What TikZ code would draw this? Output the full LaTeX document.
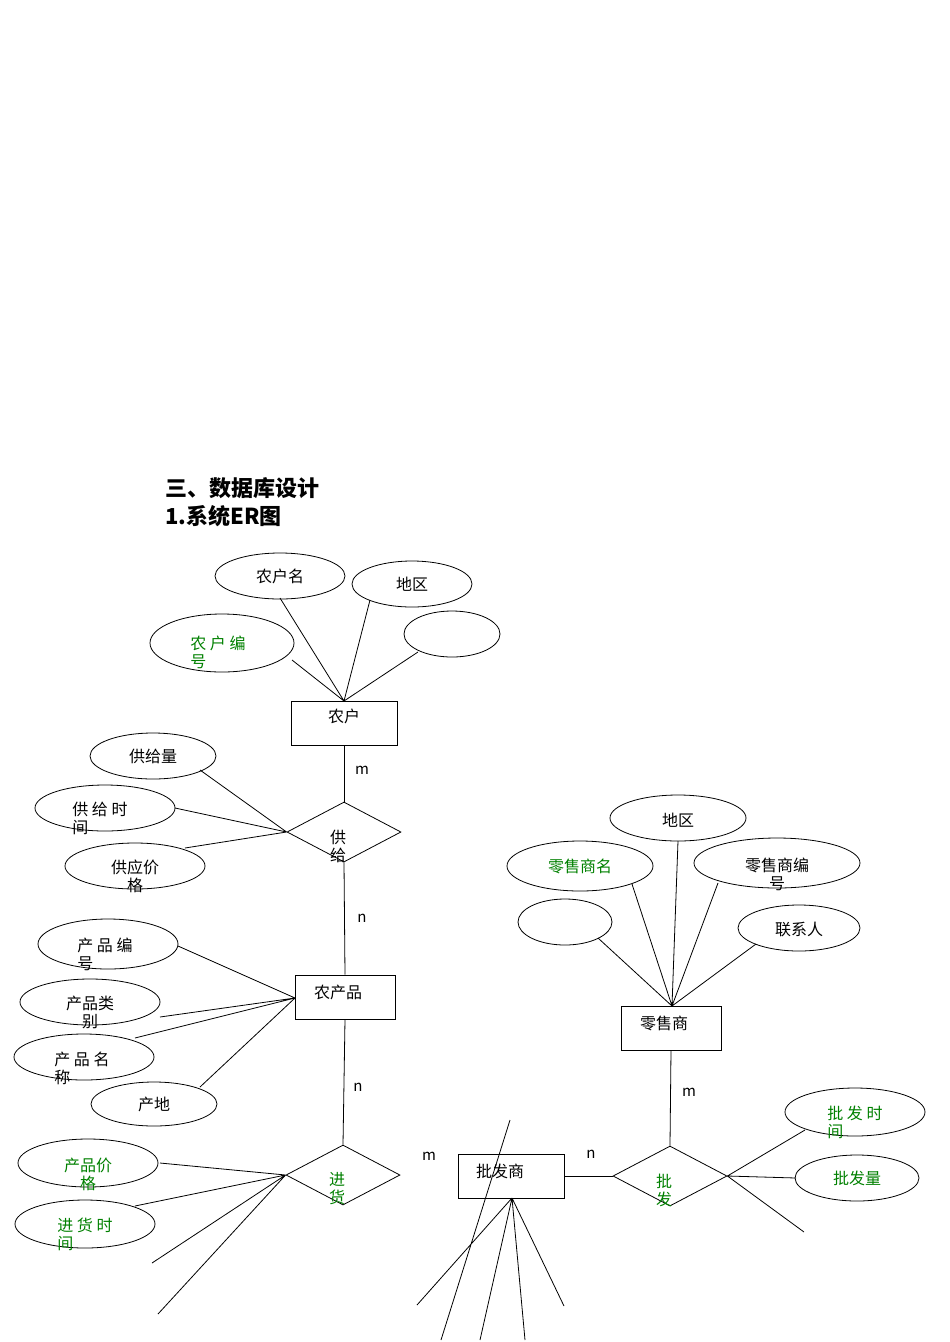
\documentclass[tikz,border=0pt]{standalone}
\usepackage{fontspec}
\setmainfont{Noto Sans CJK SC}
\usetikzlibrary{shapes.geometric}
\begin{document}
\begin{tikzpicture}[x=1pt,y=-1pt,
  ent/.style={draw,thick,minimum width=100pt,minimum height=44pt,inner sep=0},
  ell/.style={draw,thick,ellipse,inner sep=0},
  rel/.style={draw,thick,diamond,aspect=1.9,minimum width=114pt,minimum height=60pt,inner sep=0},
  txt/.style={font=\fontsize{16}{18}\selectfont,align=left,inner sep=0},
  gtxt/.style={txt,text=green!50!black},
  lbl/.style={font=\fontsize{15}{17}\selectfont,inner sep=0},
  ln/.style={thick}]
\useasboundingbox (0,0) rectangle (950,1342);
\node[anchor=west,inner sep=0,font=\fontsize{22}{28}\selectfont\bfseries,align=left] (title) at (165,502) {三、数据库设计\\1.系统ER图};
% 农户
\node[ell,minimum width=130,minimum height=46] (e1) at (280,576) {}; \node[txt] (t1) at (280,576){农户名};
\node[ell,minimum width=120,minimum height=46] (e2) at (412,584) {}; \node[txt] (t2) at (412,584){地区};
\node[ell,minimum width=96,minimum height=46] (e3) at (452,634) {};
\node[ell,minimum width=144,minimum height=58] (e4) at (222,643) {}; \node[gtxt] (t4) at (218,652){农\ 户\ 编\\号};
\node[ent,minimum width=106] (nh) at (344,723) {}; \node[txt] (tnh) at (344,716){农户};
\coordinate (nht) at (344,701);
\draw[ln] (nht)--(280,598) (nht)--(370,600) (nht)--(418,652) (nht)--(292,660);
\node[lbl] (m1) at (362,770){m};
% 供给
\node[rel] (gj) at (344,832) {}; \node[txt] (tgj) at (338,846){供\\给};
\draw[ln] (nh.south)--(gj.north);
\node[ell,minimum width=126,minimum height=46] (g1) at (153,756) {}; \node[txt] (tg1) at (153,756){供给量};
\node[ell,minimum width=140,minimum height=46] (g2) at (105,808) {}; \node[txt] (tg2) at (100,818){供\ 给\ 时\\间};
\node[ell,minimum width=140,minimum height=46] (g3) at (135,866) {}; \node[txt,align=center] (tg3) at (135,876){供应价\\格};
\draw[ln] (gj.west)--(200,770) (gj.west)--(175,808) (gj.west)--(185,848);
\node[lbl] (n1) at (362,918){n};
% 农产品
\node[ent] (ncp) at (345,997) {}; \node[txt] (tncp) at (338,992){农产品};
\draw[ln] (gj.south)--(ncp.north);
\node[ell,minimum width=140,minimum height=50] (p1) at (108,944) {}; \node[txt] (tp1) at (105,954){产\ 品\ 编\\号};
\node[ell,minimum width=140,minimum height=46] (p2) at (90,1002) {}; \node[txt,align=center] (tp2) at (90,1012){产品类\\别};
\node[ell,minimum width=140,minimum height=46] (p3) at (84,1057) {}; \node[txt] (tp3) at (82,1068){产\ 品\ 名\\称};
\node[ell,minimum width=126,minimum height=44] (p4) at (154,1104) {}; \node[txt] (tp4) at (154,1104){产地};
\coordinate (ncpw) at (295,998);
\draw[ln] (ncpw)--(178,946) (ncpw)--(160,1017) (ncpw)--(135,1038) (ncpw)--(200,1087);
\node[lbl] (n2) at (358,1087){n};
% 进货
\node[rel] (jh) at (343,1175) {}; \node[gtxt] (tjh) at (337,1189){进\\货};
\draw[ln] (ncp.south)--(jh.north);
\node[ell,minimum width=140,minimum height=48] (j1) at (88,1163) {}; \node[gtxt,align=center] (tj1) at (88,1174){产品价\\格};
\node[ell,minimum width=140,minimum height=48] (j2) at (85,1224) {}; \node[gtxt] (tj2) at (85,1234){进\ 货\ 时\\间};
\draw[ln] (jh.west)--(160,1163) (jh.west)--(135,1206) (jh.west)--(152,1263) (jh.west)--(158,1314);
\node[lbl] (m2) at (429,1156){m};
% 批发商
\node[ent,minimum width=106] (pfs) at (511,1176) {}; \node[txt] (tpfs) at (500,1171){批发商};
\coordinate (pb) at (512,1198);
\draw[ln] (510,1120)--(441,1340) (pb)--(417,1305) (pb)--(480,1340) (pb)--(525,1340) (pb)--(564,1306);
\node[lbl] (n3) at (591,1154){n};
% 批发
\node[rel] (pf) at (670,1176) {}; \node[gtxt] (tpf) at (664,1190){批\\发};
\draw[ln] (pfs.east)--(pf.west);
\node[lbl] (m3) at (689,1092){m};
% 零售商
\node[ent] (lss) at (671,1028) {}; \node[txt] (tlss) at (664,1023){零售商};
\draw[ln] (lss.south)--(pf.north);
\node[ell,minimum width=136,minimum height=46] (l1) at (678,818) {}; \node[txt] (tl1) at (678,820){地区};
\node[ell,minimum width=146,minimum height=50] (l2) at (580,866) {}; \node[gtxt] (tl2) at (580,866){零售商名};
\node[ell,minimum width=166,minimum height=50] (l3) at (777,863) {}; \node[txt,align=center] (tl3) at (777,874){零售商编\\号};
\node[ell,minimum width=94,minimum height=46] (l4) at (565,922) {};
\node[ell,minimum width=122,minimum height=46] (l5) at (799,928) {}; \node[txt] (tl5) at (799,929){联系人};
\coordinate (lt) at (672,1006);
\draw[ln] (lt)--(678,841) (lt)--(632,884) (lt)--(718,883) (lt)--(598,938) (lt)--(756,944);
\node[ell,minimum width=140,minimum height=48] (b1) at (855,1112) {}; \node[gtxt] (tb1) at (855,1122){批\ 发\ 时\\间};
\node[ell,minimum width=124,minimum height=46] (b2) at (857,1178) {}; \node[gtxt] (tb2) at (857,1178){批发量};
\draw[ln] (pf.east)--(805,1130) (pf.east)--(796,1178) (pf.east)--(804,1232);
\end{tikzpicture}
\end{document}
